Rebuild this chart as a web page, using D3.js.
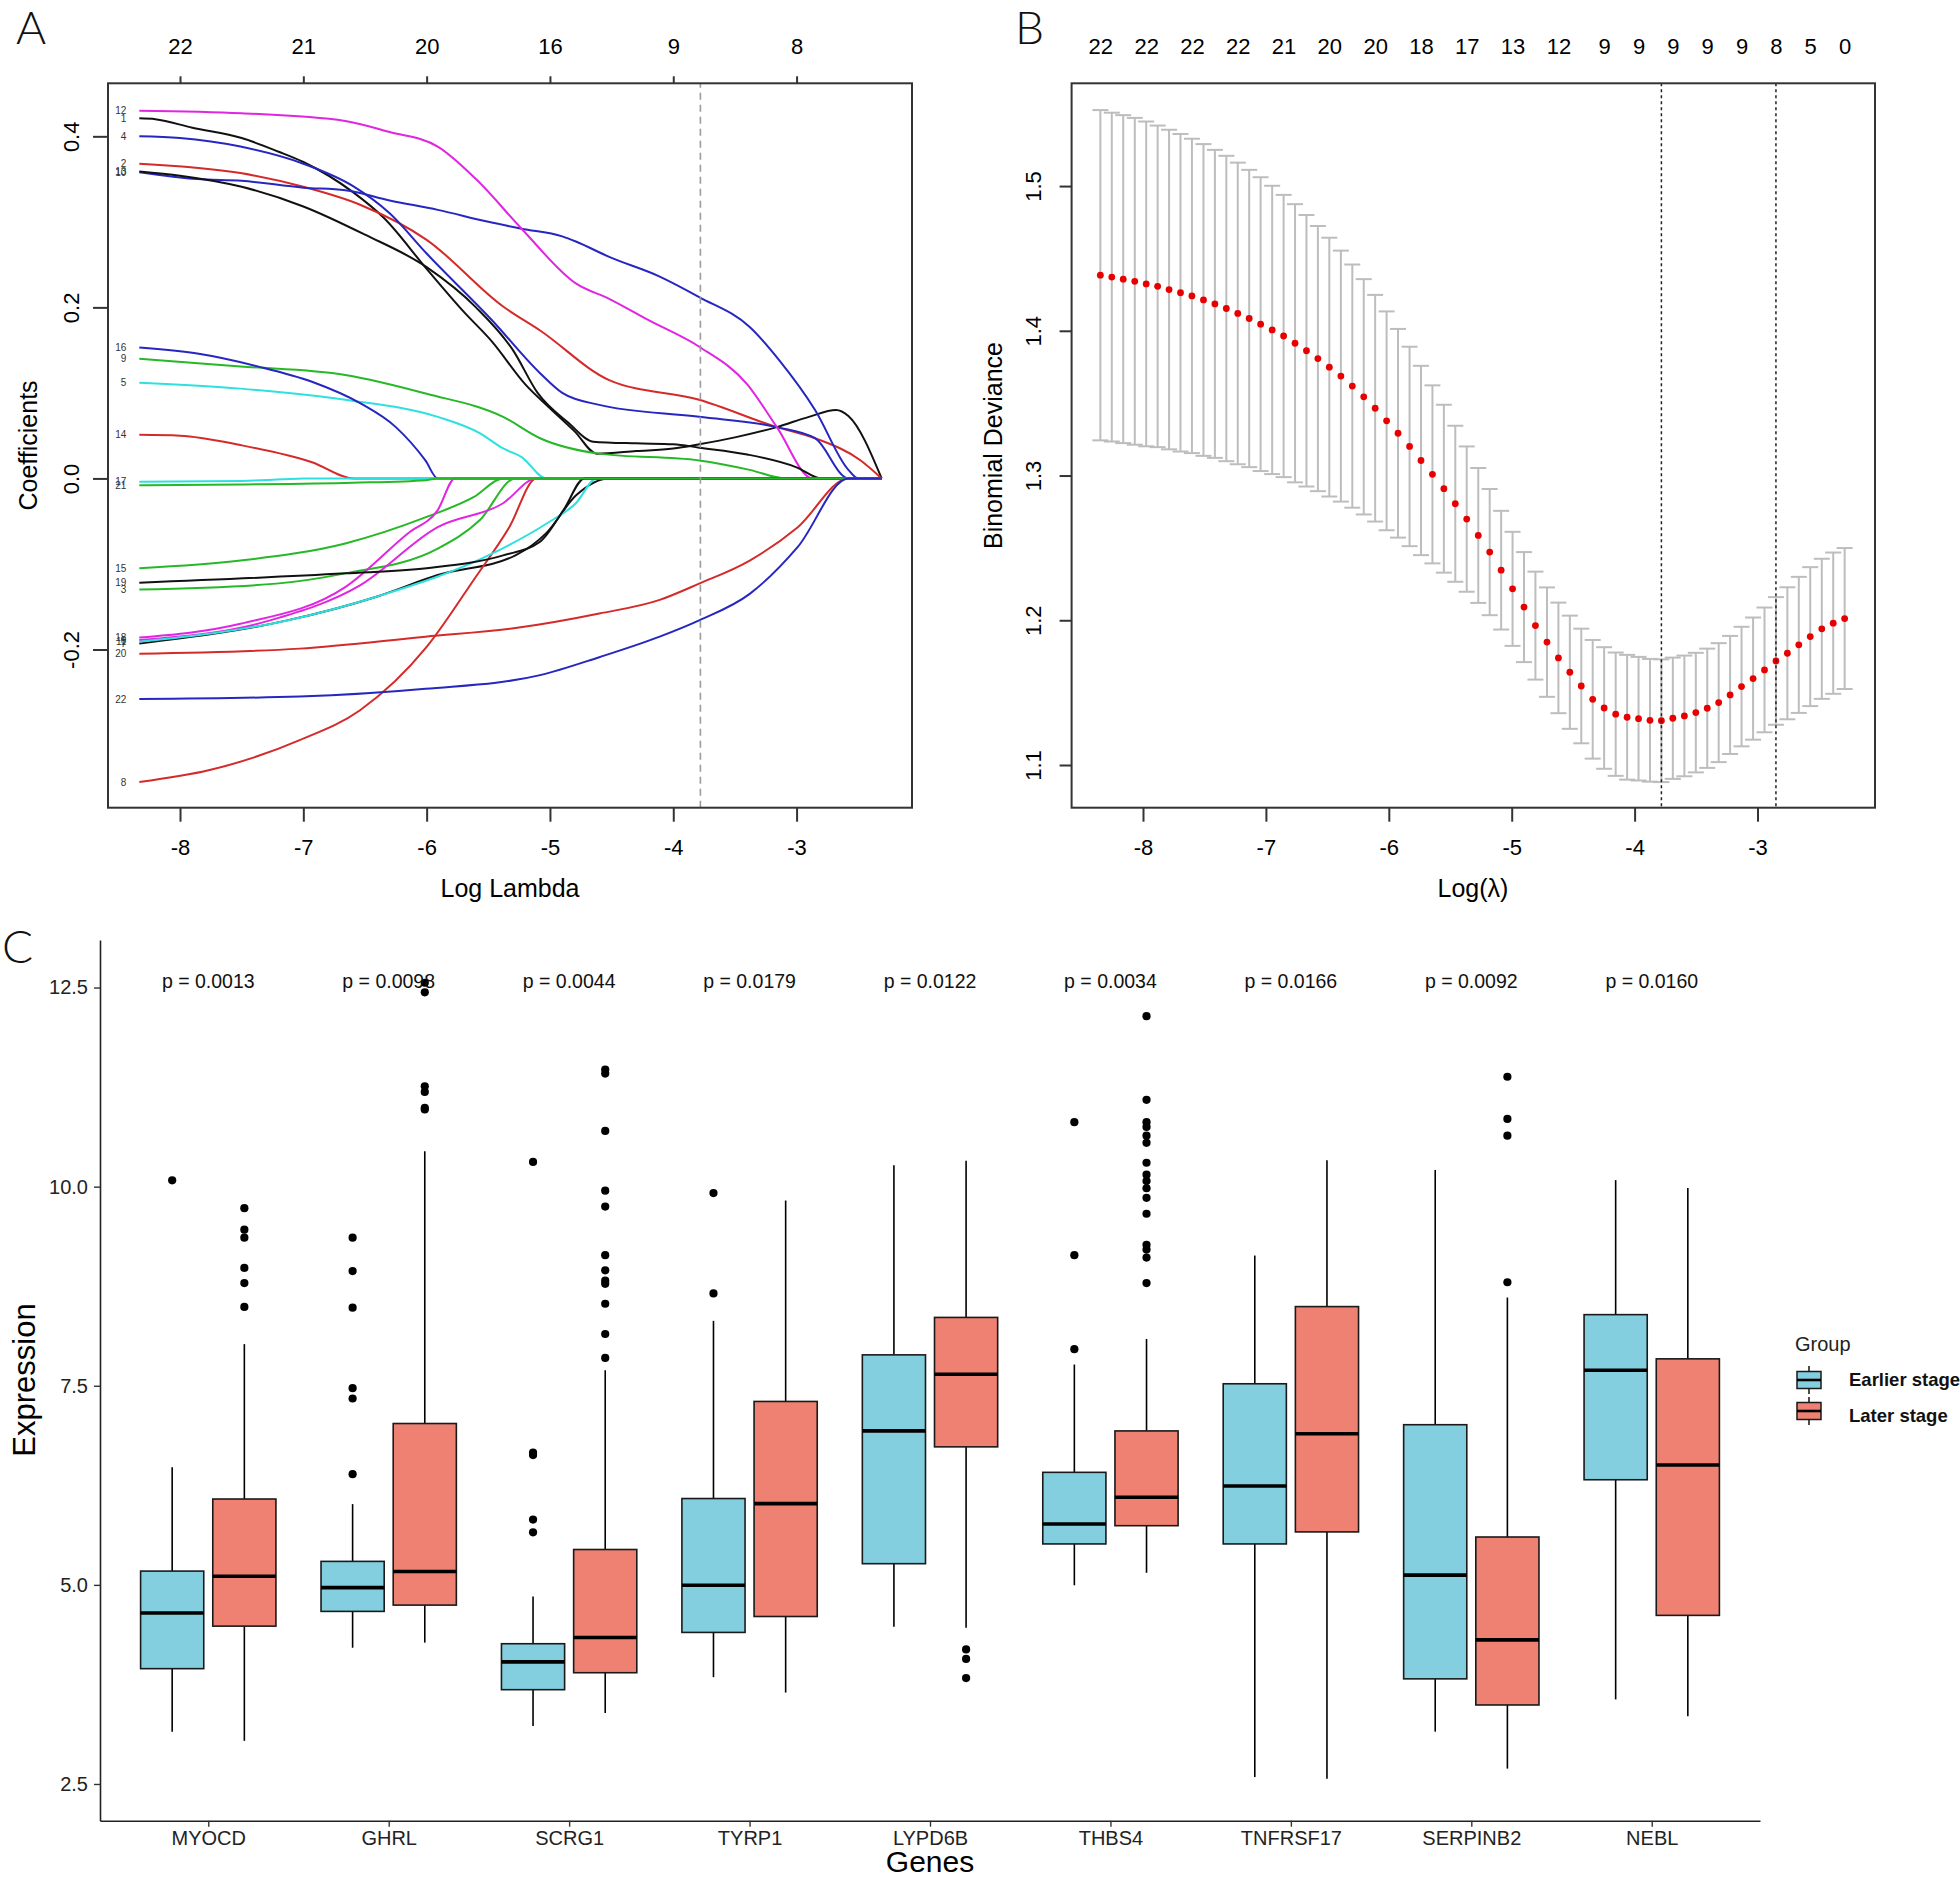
<!DOCTYPE html>
<html><head><meta charset="utf-8">
<script src="https://cdn.jsdelivr.net/npm/d3@7"></script>
<style>
body{margin:0;background:#fff;}
svg{display:block;font-family:"Liberation Sans",Arial,sans-serif;}
</style></head><body>
<svg id="c" width="1960" height="1882"></svg>
<script>
// ---------------- Panel A data: coefficient paths (logLambda, coefficient) ----------------
const ticksA = [-8,-7,-6,-5,-4,-3];
const nzA = [22,21,20,16,9,8];
const coefTicks = [-0.2,0,0.2,0.4];
const lambdaCutA = -3.78;
const coefNames = ["1","2","3","4","5","6","7","8","9","10","11","12","13","14","15","16","17","18","19","20","21","22"];
const path1 = [[-8.33,0.421],[-8.2,0.420],[-7.9,0.410],[-7.5,0.398],[-7.2,0.382],[-7.0,0.370],[-6.6,0.335],[-6.35,0.305],[-6.0,0.245],[-5.7,0.195],[-5.47,0.160],[-5.2,0.110],[-5.0,0.082],[-4.8,0.055],[-4.62,0.029],[-4.3,0.032],[-4.0,0.035],[-3.79,0.040],[-3.5,0.048],[-3.16,0.060],[-2.9,0.072],[-2.68,0.080],[-2.58,0.073],[-2.31,0]];
const path2 = [[-8.33,0.368],[-7.51,0.357],[-7.0,0.341],[-6.54,0.320],[-6.0,0.279],[-5.38,0.201],[-5.08,0.173],[-4.52,0.115],[-3.79,0.092],[-3.16,0.060],[-2.85,0.047],[-2.48,0.021],[-2.31,0]];
const path3 = [[-8.33,-0.130],[-7.22,-0.123],[-6.66,-0.111],[-5.91,-0.082],[-5.57,-0.049],[-5.28,0],[-2.31,0]];
const path4 = [[-8.33,0.400],[-8.0,0.398],[-7.51,0.388],[-7.0,0.368],[-6.6,0.342],[-6.3,0.310],[-6.0,0.263],[-5.47,0.185],[-5.08,0.123],[-4.9,0.100],[-4.6,0.086],[-3.79,0.072],[-3.16,0.060],[-2.85,0.047],[-2.58,0],[-2.31,0]];
const path5 = [[-8.33,0.112],[-7.51,0.105],[-6.66,0.092],[-5.91,0.072],[-5.57,0.053],[-5.38,0.035],[-5.23,0.025],[-5.03,0],[-2.31,0]];
const path6 = [[-8.33,-0.189],[-7.27,-0.166],[-6.54,-0.125],[-5.91,-0.057],[-5.38,-0.029],[-5.11,0],[-2.31,0]];
const path7 = [[-8.33,-0.193],[-7.13,-0.166],[-6.40,-0.138],[-5.91,-0.113],[-5.28,-0.090],[-5.03,-0.064],[-4.79,-0.020],[-4.52,0],[-2.31,0]];
const path8 = [[-8.33,-0.355],[-7.76,-0.341],[-7.03,-0.306],[-6.54,-0.271],[-6.0,-0.197],[-5.62,-0.119],[-5.33,-0.057],[-5.11,0],[-2.31,0]];
const path9 = [[-8.33,0.140],[-7.51,0.131],[-6.66,0.121],[-6.0,0.099],[-5.38,0.072],[-5.08,0.047],[-4.60,0.029],[-3.79,0.021],[-3.38,0.010],[-3.09,0],[-2.31,0]];
const path10 = [[-8.33,0.358],[-7.86,0.350],[-7.5,0.348],[-7.0,0.340],[-6.66,0.337],[-6.3,0.325],[-5.91,0.314],[-5.5,0.300],[-5.23,0.292],[-4.9,0.283],[-4.79,0.277],[-4.52,0.259],[-4.11,0.236],[-3.79,0.212],[-3.38,0.177],[-3.14,0.138],[-2.85,0.080],[-2.58,0.010],[-2.50,0],[-2.31,0]];
const path11 = [[-8.33,-0.191],[-7.13,-0.166],[-6.40,-0.138],[-5.47,-0.088],[-5.03,-0.053],[-4.79,-0.029],[-4.62,0],[-2.31,0]];
const path12 = [[-8.33,0.430],[-7.5,0.427],[-6.66,0.418],[-6.3,0.405],[-5.91,0.388],[-5.6,0.350],[-5.23,0.292],[-4.79,0.228],[-4.52,0.210],[-4.2,0.185],[-3.79,0.154],[-3.4,0.110],[-3.16,0.060],[-2.87,0],[-2.31,0]];
const path13 = [[-8.33,0.359],[-8.0,0.354],[-7.5,0.341],[-7.0,0.318],[-6.5,0.285],[-6.0,0.247],[-5.6,0.200],[-5.3,0.150],[-5.1,0.100],[-4.85,0.065],[-4.65,0.043],[-4.3,0.041],[-4.0,0.040],[-3.79,0.036],[-3.4,0.028],[-3.0,0.013],[-2.80,0],[-2.31,0]];
const path14 = [[-8.33,0.051],[-8.0,0.050],[-7.51,0.039],[-6.93,0.019],[-6.59,0],[-2.31,0]];
const path15 = [[-8.33,-0.105],[-7.51,-0.096],[-6.66,-0.076],[-6.0,-0.045],[-5.62,-0.022],[-5.38,0],[-2.31,0]];
const path16 = [[-8.33,0.153],[-7.86,0.146],[-7.37,0.131],[-6.93,0.113],[-6.54,0.088],[-6.25,0.060],[-6.01,0.021],[-5.91,0],[-2.31,0]];
const path17 = [[-8.33,-0.004],[-7.5,-0.003],[-7.17,-0.001],[-7.0,0],[-2.31,0]];
const path18 = [[-8.33,-0.186],[-7.51,-0.170],[-6.66,-0.127],[-6.15,-0.064],[-5.91,-0.037],[-5.77,0],[-2.31,0]];
const path19 = [[-8.33,-0.122],[-6.66,-0.111],[-6.0,-0.105],[-5.38,-0.090],[-5.08,-0.074],[-4.89,-0.037],[-4.72,0],[-2.31,0]];
const path20 = [[-8.33,-0.205],[-7.03,-0.199],[-6.01,-0.185],[-5.28,-0.175],[-4.60,-0.158],[-4.11,-0.142],[-3.79,-0.123],[-3.38,-0.096],[-2.99,-0.057],[-2.58,0],[-2.31,0]];
const path21 = [[-8.33,-0.008],[-7.5,-0.007],[-6.6,-0.005],[-6.0,-0.002],[-5.91,0],[-2.31,0]];
const path22 = [[-8.33,-0.258],[-7.03,-0.255],[-6.01,-0.246],[-5.08,-0.230],[-4.60,-0.209],[-4.11,-0.185],[-3.79,-0.166],[-3.38,-0.135],[-2.99,-0.080],[-2.58,0],[-2.31,0]];
const coefSeries = [path1,path2,path3,path4,path5,path6,path7,path8,path9,path10,path11,path12,path13,path14,path15,path16,path17,path18,path19,path20,path21,path22];
const rPalette = ["#111111","#d42a2a","#27b827","#2626c0","#2ee0e0","#e026e0"];

// ---------------- Panel B data: cross-validation ----------------
const lambdaB = [-8.347,-8.254,-8.161,-8.067,-7.974,-7.881,-7.788,-7.695,-7.602,-7.508,
-7.415,-7.322,-7.229,-7.136,-7.043,-6.949,-6.856,-6.763,-6.670,-6.577,
-6.484,-6.390,-6.297,-6.204,-6.111,-6.018,-5.925,-5.831,-5.738,-5.645,
-5.552,-5.459,-5.366,-5.272,-5.179,-5.086,-4.993,-4.900,-4.807,-4.713,
-4.620,-4.527,-4.434,-4.341,-4.248,-4.154,-4.061,-3.968,-3.875,-3.782,
-3.689,-3.595,-3.502,-3.409,-3.316,-3.223,-3.130,-3.036,-2.943,-2.850,
-2.757,-2.664,-2.571,-2.477,-2.384,-2.291];
const cvmB = [1.4384,1.4371,1.4357,1.4342,1.4324,1.4307,1.4285,1.4263,1.4241,1.4213,
1.4186,1.4154,1.4120,1.4085,1.4046,1.4006,1.3964,1.3914,1.3862,1.3808,
1.3749,1.3687,1.3618,1.3544,1.3465,1.3378,1.3292,1.3201,1.3104,1.3008,
1.2909,1.2805,1.2699,1.2586,1.2471,1.2346,1.2217,1.2091,1.1963,1.1849,
1.1740,1.1641,1.1546,1.1454,1.1394,1.1351,1.1330,1.1320,1.1309,1.1306,
1.1323,1.1339,1.1362,1.1392,1.1431,1.1484,1.1542,1.1597,1.1657,1.1719,
1.1772,1.1830,1.1887,1.1941,1.1980,1.2012];
const cvsdB = [0.1141,0.1136,0.1133,0.1129,0.1122,0.1111,0.1104,0.1097,0.1086,0.1077,
0.1064,0.1055,0.1042,0.1027,0.1015,0.0996,0.0975,0.0961,0.0938,0.0916,
0.0894,0.0867,0.0840,0.0813,0.0783,0.0756,0.0721,0.0689,0.0654,0.0615,
0.0580,0.0539,0.0502,0.0466,0.0436,0.0410,0.0394,0.0380,0.0373,0.0378,
0.0382,0.0391,0.0396,0.0410,0.0420,0.0426,0.0431,0.0427,0.0424,0.0424,
0.0419,0.0417,0.0413,0.0412,0.0411,0.0408,0.0413,0.0422,0.0431,0.0441,
0.0456,0.0470,0.0480,0.0484,0.0488,0.0487];
const nzIdxB = [0,4,8,12,16,20,24,28,32,36,40,44,47,50,53,56,59,62,65];
const nzB = [22,22,22,22,21,20,20,18,17,13,12,9,9,9,9,9,8,5,0];
const ticksB = [-8,-7,-6,-5,-4,-3];
const devTicks = [1.1,1.2,1.3,1.4,1.5];

// ---------------- Panel C data: boxplots ----------------
const genes = ["MYOCD","GHRL","SCRG1","TYRP1","LYPD6B","THBS4","TNFRSF17","SERPINB2","NEBL"];
const groups = ["Earlier stage","Later stage"];
const pValues = ["0.0013","0.0098","0.0044","0.0179","0.0122","0.0034","0.0166","0.0092","0.0160"];
const pLabelY = 12.58;
const exprTicks = [2.5,5.0,7.5,10.0,12.5];
const earlyLo  = [3.157,4.211,3.228,3.841,4.475,4.995,2.587,3.157,3.562];
const earlyQ1  = [3.948,4.667,3.684,4.403,5.266,5.514,5.514,3.820,6.320];
const earlyMed = [4.646,4.966,4.033,4.995,6.933,5.764,6.241,5.123,7.695];
const earlyQ3  = [5.173,5.295,4.261,6.084,7.888,6.413,7.525,7.011,8.393];
const earlyHi  = [6.477,6.014,4.853,8.315,10.268,7.767,9.135,10.210,10.082];
const earlyOut = [[10.08],[9.36,8.94,8.48,7.47,7.34,6.39],[10.31,6.66,6.63,5.82,5.66],[9.92,8.66],[],[10.81,9.14,7.96],[],[],[]];
const lateLo  = [3.042,4.275,3.391,3.648,4.461,5.152,2.565,2.693,3.349];
const lateQ1  = [4.482,4.746,3.897,4.603,6.733,5.743,5.665,3.492,4.617];
const lateMed = [5.109,5.167,4.339,6.020,7.645,6.100,6.897,4.310,6.505];
const lateQ3  = [6.078,7.026,5.444,7.303,8.358,6.933,8.494,5.601,7.838];
const lateHi  = [8.023,10.446,7.695,9.826,10.324,8.087,10.332,8.608,9.983];
const lateOut = [[9.73,9.46,9.36,8.98,8.79,8.49],[12.56,12.44,11.26,11.19,10.99,10.97],
  [11.47,11.42,10.70,9.95,9.75,9.14,8.95,8.82,8.78,8.53,8.15,7.85],[],[4.19,4.07,3.83],
  [12.14,11.09,10.81,10.75,10.64,10.55,10.30,10.15,10.07,9.98,9.86,9.66,9.27,9.21,9.11,8.79],[],[11.38,10.85,10.64,8.80],[]];
const groupColors = ["#83cfe0","#ee8172"];

// =====================================================================
const svg = d3.select("#c");
const FONT = '"Liberation Sans",Arial,sans-serif';

function styleAxis(g, size, col){
  g.attr("font-size", size).attr("font-family", FONT);
  g.selectAll(".tick text").attr("fill", col || "#000");
  g.selectAll(".tick line").attr("stroke", "#333").attr("stroke-width", 2);
}
function panelLetter(t, x, y){
  svg.append("text").attr("x",x).attr("y",y).text(t)
    .attr("font-family","Lato,'Open Sans',sans-serif").attr("font-weight",300)
    .attr("font-size",46).attr("fill","#111");
}

// ---------------- Panel A ----------------
const xA = d3.scaleLinear().domain([-8.584,-2.064]).range([108,912]);
const yA = d3.scaleLinear().domain([-0.385,0.462]).range([807.7,83.3]);
const gA = svg.append("g");
const lineA = d3.line().x(d=>xA(d[0])).y(d=>yA(d[1])).curve(d3.curveMonotoneX);
coefSeries.forEach((s,i)=>{
  gA.append("path").attr("d", lineA(s)).attr("fill","none")
    .attr("stroke", rPalette[i % 6]).attr("stroke-width", 2);
});
coefSeries.forEach((s,i)=>{
  gA.append("text").attr("x", xA(s[0][0]) - 13).attr("y", yA(s[0][1]) + 3.5)
    .attr("text-anchor","end").attr("font-size",10).attr("font-family",FONT)
    .attr("fill","#333").text(coefNames[i]);
});
gA.append("line").attr("x1",xA(lambdaCutA)).attr("x2",xA(lambdaCutA))
  .attr("y1",yA.range()[0]).attr("y2",yA.range()[1])
  .attr("stroke","#9a9a9a").attr("stroke-width",1.6).attr("stroke-dasharray","7,5");
gA.append("rect").attr("x",108).attr("y",83.3).attr("width",912-108).attr("height",807.7-83.3)
  .attr("fill","none").attr("stroke","#333").attr("stroke-width",2);
{
  const ax = gA.append("g").attr("transform","translate(0,807.7)")
    .call(d3.axisBottom(xA).tickValues(ticksA).tickSize(14).tickPadding(18).tickFormat(d=>String(d)));
  ax.select(".domain").remove(); styleAxis(ax, 22);
  const at = gA.append("g").attr("transform","translate(0,83.3)")
    .call(d3.axisTop(xA).tickValues(ticksA).tickSize(7).tickPadding(22).tickFormat((d,i)=>nzA[i]));
  at.select(".domain").remove(); styleAxis(at, 22);
  const ay = gA.append("g").attr("transform","translate(108,0)")
    .call(d3.axisLeft(yA).tickValues(coefTicks).tickSize(15).tickFormat(d=>d.toFixed(1)));
  ay.select(".domain").remove(); styleAxis(ay, 22);
  ay.selectAll(".tick text").attr("transform","rotate(-90)").attr("x",0).attr("y",-29)
    .attr("dy","0").attr("text-anchor","middle");
}
gA.append("text").attr("x",510).attr("y",897).attr("text-anchor","middle")
  .attr("font-size",25).attr("font-family",FONT).text("Log Lambda");
gA.append("text").attr("transform","translate(37,445.5) rotate(-90)").attr("text-anchor","middle")
  .attr("font-size",25).attr("font-family",FONT).text("Coefficients");
panelLetter("A", 16, 44);

// ---------------- Panel B ----------------
const xB = d3.scaleLinear().domain([-8.581,-2.044]).range([1071.6,1875]);
const yB = d3.scaleLinear().domain([1.0705,1.571]).range([807.7,83.3]);
const gB = svg.append("g");
const capW = 8;
lambdaB.forEach((l,i)=>{
  const x = xB(l), yu = yB(cvmB[i]+cvsdB[i]), yl = yB(cvmB[i]-cvsdB[i]);
  gB.append("line").attr("x1",x).attr("x2",x).attr("y1",yu).attr("y2",yl)
    .attr("stroke","#bdbdbd").attr("stroke-width",2);
  gB.append("line").attr("x1",x-capW).attr("x2",x+capW).attr("y1",yu).attr("y2",yu)
    .attr("stroke","#bdbdbd").attr("stroke-width",2);
  gB.append("line").attr("x1",x-capW).attr("x2",x+capW).attr("y1",yl).attr("y2",yl)
    .attr("stroke","#bdbdbd").attr("stroke-width",2);
});
lambdaB.forEach((l,i)=>{
  gB.append("circle").attr("cx",xB(l)).attr("cy",yB(cvmB[i])).attr("r",3.4).attr("fill","#e80000");
});
const minIdx = d3.minIndex(cvmB);
const thr = cvmB[minIdx] + cvsdB[minIdx];
let seIdx = minIdx;
cvmB.forEach((v,i)=>{ if (i > minIdx && v <= thr) seIdx = i; });
[lambdaB[minIdx], lambdaB[seIdx]].forEach(l=>{
  gB.append("line").attr("x1",xB(l)).attr("x2",xB(l)).attr("y1",83.3).attr("y2",807.7)
    .attr("stroke","#222").attr("stroke-width",1.5).attr("stroke-dasharray","3,3");
});
gB.append("rect").attr("x",1071.6).attr("y",83.3).attr("width",1875-1071.6).attr("height",807.7-83.3)
  .attr("fill","none").attr("stroke","#333").attr("stroke-width",2);
{
  const ax = gB.append("g").attr("transform","translate(0,807.7)")
    .call(d3.axisBottom(xB).tickValues(ticksB).tickSize(14).tickPadding(18).tickFormat(d=>String(d)));
  ax.select(".domain").remove(); styleAxis(ax, 22);
  const at = gB.append("g").attr("transform","translate(0,83.3)")
    .call(d3.axisTop(xB).tickValues(nzIdxB.map(i=>lambdaB[i])).tickSize(0).tickPadding(29).tickFormat((d,i)=>nzB[i]));
  at.select(".domain").remove(); styleAxis(at, 22);
  const ay = gB.append("g").attr("transform","translate(1071.6,0)")
    .call(d3.axisLeft(yB).tickValues(devTicks).tickSize(12).tickFormat(d=>d.toFixed(1)));
  ay.select(".domain").remove(); styleAxis(ay, 22);
  ay.selectAll(".tick text").attr("transform","rotate(-90)").attr("x",0).attr("y",-31)
    .attr("dy","0").attr("text-anchor","middle");
}
gB.append("text").attr("x",1473).attr("y",897).attr("text-anchor","middle")
  .attr("font-size",25).attr("font-family",FONT).text("Log(λ)");
gB.append("text").attr("transform","translate(1002,445.5) rotate(-90)").attr("text-anchor","middle")
  .attr("font-size",25).attr("font-family",FONT).text("Binomial Deviance");
panelLetter("B", 1015, 44);

// ---------------- Panel C ----------------
const xC = d3.scalePoint().domain(genes).range([100,1760]).padding(0.6);
const yC = d3.scaleLinear().domain([2.039,13.097]).range([1820.7,940]);
const gC = svg.append("g");
const stepC = xC.step(), bw = stepC*0.35, off = stepC*0.2;
function drawBox(cx, lo, q1, med, q3, hi, out, fill){
  gC.append("line").attr("x1",cx).attr("x2",cx).attr("y1",yC(q3)).attr("y2",yC(hi))
    .attr("stroke","#000").attr("stroke-width",1.6);
  gC.append("line").attr("x1",cx).attr("x2",cx).attr("y1",yC(q1)).attr("y2",yC(lo))
    .attr("stroke","#000").attr("stroke-width",1.6);
  gC.append("rect").attr("x",cx-bw/2).attr("y",yC(q3)).attr("width",bw).attr("height",yC(q1)-yC(q3))
    .attr("fill",fill).attr("stroke","#1a1a1a").attr("stroke-width",1.6);
  gC.append("line").attr("x1",cx-bw/2).attr("x2",cx+bw/2).attr("y1",yC(med)).attr("y2",yC(med))
    .attr("stroke","#000").attr("stroke-width",3.6);
  out.forEach(v=>{
    gC.append("circle").attr("cx",cx).attr("cy",yC(v)).attr("r",4.1).attr("fill","#000");
  });
}
genes.forEach((g,i)=>{
  const c = xC(g);
  drawBox(c-off, earlyLo[i], earlyQ1[i], earlyMed[i], earlyQ3[i], earlyHi[i], earlyOut[i], groupColors[0]);
  drawBox(c+off, lateLo[i], lateQ1[i], lateMed[i], lateQ3[i], lateHi[i], lateOut[i], groupColors[1]);
  gC.append("text").attr("x",c).attr("y",yC(pLabelY)).attr("dy","0.35em").attr("text-anchor","middle")
    .attr("font-size",19.5).attr("font-family",FONT).attr("fill","#111").text("p = " + pValues[i]);
});
{
  const ax = gC.append("g").attr("transform","translate(0,1820.7)")
    .call(d3.axisBottom(xC).tickSize(6).tickSizeOuter(0).tickPadding(4));
  ax.select(".domain").attr("stroke","#222").attr("stroke-width",1.6);
  styleAxis(ax, 20, "#222");
  ax.selectAll(".tick line").attr("stroke-width",1.4);
  const ay = gC.append("g").attr("transform","translate(100,0)")
    .call(d3.axisLeft(yC).tickValues(exprTicks).tickSize(6).tickSizeOuter(0).tickPadding(6).tickFormat(d=>d.toFixed(1)));
  ay.select(".domain").attr("stroke","#222").attr("stroke-width",1.6);
  styleAxis(ay, 20, "#222");
  ay.selectAll(".tick line").attr("stroke-width",1.4);
}
gC.append("text").attr("x",930).attr("y",1872).attr("text-anchor","middle")
  .attr("font-size",30).attr("font-family",FONT).text("Genes");
gC.append("text").attr("transform","translate(35,1380) rotate(-90)").attr("text-anchor","middle")
  .attr("font-size",31).attr("font-family",FONT).text("Expression");
panelLetter("C", 2, 963);

// legend
const gL = svg.append("g");
gL.append("text").attr("x",1795).attr("y",1351).attr("font-size",20).attr("font-family",FONT)
  .attr("fill","#222").text("Group");
const keyY = [1380, 1411], labY = [1380, 1416];
groups.forEach((gname,i)=>{
  const kx = 1809, ky = keyY[i];
  gL.append("line").attr("x1",kx).attr("x2",kx).attr("y1",ky-14).attr("y2",ky+14)
    .attr("stroke","#000").attr("stroke-width",1.4);
  gL.append("rect").attr("x",kx-12).attr("y",ky-8.5).attr("width",24).attr("height",17)
    .attr("fill",groupColors[i]).attr("stroke","#1a1a1a").attr("stroke-width",1.5);
  gL.append("line").attr("x1",kx-12).attr("x2",kx+12).attr("y1",ky).attr("y2",ky)
    .attr("stroke","#000").attr("stroke-width",2.6);
  gL.append("text").attr("x",1849).attr("y",labY[i]).attr("dy","0.35em")
    .attr("font-size",18.5).attr("font-weight","bold").attr("font-family",FONT)
    .attr("fill","#111").text(gname);
});
</script>
</body></html>
